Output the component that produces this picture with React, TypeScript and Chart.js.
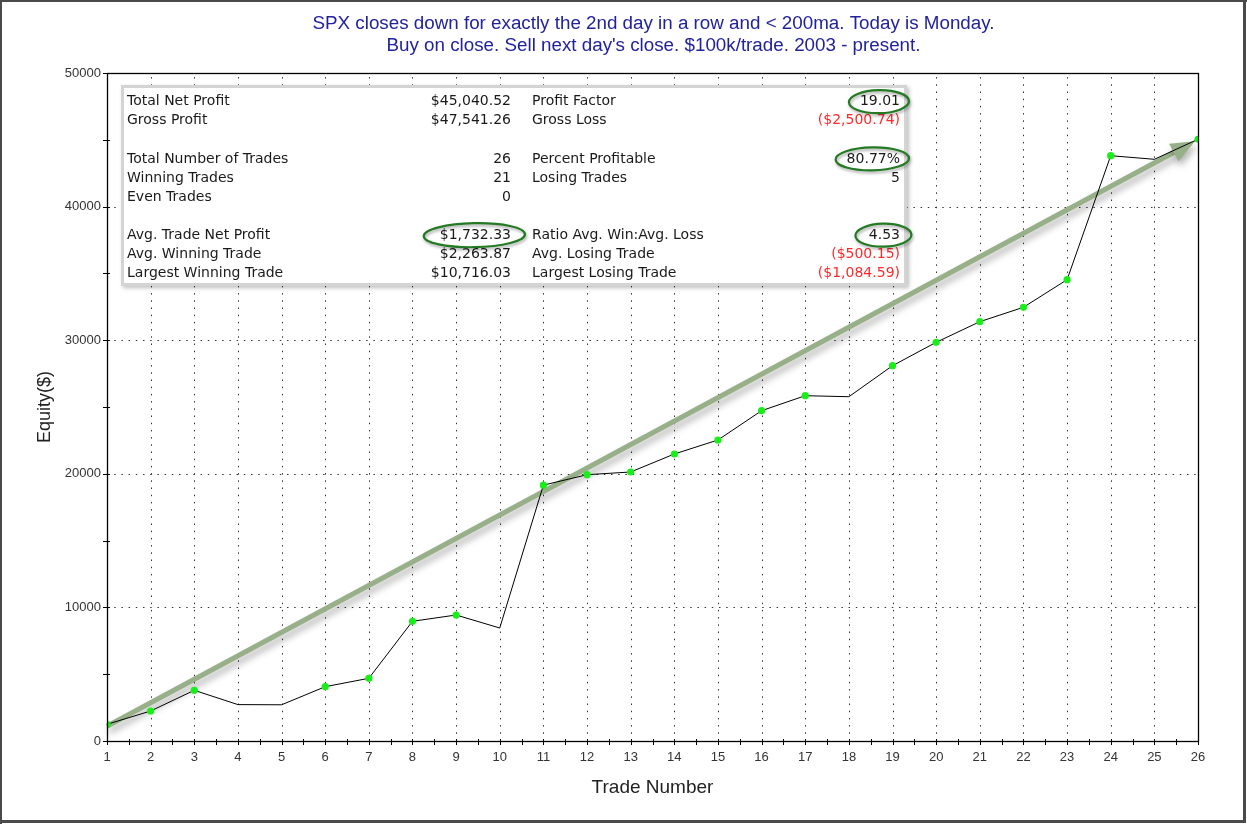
import React, { useEffect, useRef } from "react";
import { Chart, registerables } from "chart.js";

Chart.register(...registerables);

const TITLE_LINES = [
  "SPX closes down for exactly the 2nd day in a row and < 200ma. Today is Monday.",
  "Buy on close. Sell next day's close. $100k/trade. 2003 - present.",
];
const X_TITLE = "Trade Number";
const Y_TITLE = "Equity($)";

const tradeNumbers = [1, 2, 3, 4, 5, 6, 7, 8, 9, 10, 11, 12, 13, 14, 15, 16, 17, 18, 19, 20, 21, 22, 23, 24, 25, 26];
const equity = [
  1250, 2245, 3795, 2725, 2710, 4065, 4693, 8960, 9431, 8458, 19150, 19933, 20135, 21482, 22530, 24723, 25846,
  25770, 28092, 29843, 31385, 32463, 34530, 43810, 43540, 45040.52,
];

const yMin = 0;
const yMax = 50000;
const yLabelStep = 10000;
const yMinorStep = 5000;

// trend arrow, in data units [trade, equity]
const arrowFrom = [1, 1100];
const arrowTo = [25.93, 44900];

// stats box (rows; empty strings are spacer rows)
const statLabelsLeft = [
  "Total Net Profit", "Gross Profit", "", "Total Number of Trades", "Winning Trades", "Even Trades", "",
  "Avg. Trade Net Profit", "Avg. Winning Trade", "Largest Winning Trade",
];
const statValuesLeft = ["$45,040.52", "$47,541.26", "", "26", "21", "0", "", "$1,732.33", "$2,263.87", "$10,716.03"];
const statLabelsRight = [
  "Profit Factor", "Gross Loss", "", "Percent Profitable", "Losing Trades", "", "",
  "Ratio Avg. Win:Avg. Loss", "Avg. Losing Trade", "Largest Losing Trade",
];
const statValuesRight = ["19.01", "($2,500.74)", "", "80.77%", "5", "", "", "4.53", "($500.15)", "($1,084.59)"];
const highlightLeft = [7];
const highlightRight = [0, 3, 7];

const FONT = "'Liberation Sans', Arial, sans-serif";
const STAT_FONT = "14px 'DejaVu Sans', Verdana, sans-serif";
const TITLE_FONT = "18.8px 'Liberation Sans', Arial, sans-serif";

function drawEllipse(ctx: CanvasRenderingContext2D, cx: number, cy: number, rx: number, ry: number) {
  ctx.save();
  ctx.shadowColor = "rgba(0,0,0,0.35)";
  ctx.shadowBlur = 3;
  ctx.shadowOffsetX = 1;
  ctx.shadowOffsetY = 2;
  ctx.strokeStyle = "#237a23";
  ctx.lineWidth = 2.2;
  ctx.beginPath();
  ctx.ellipse(cx, cy, rx, ry, -0.02, 0, Math.PI * 2);
  ctx.stroke();
  ctx.restore();
}

const decorPlugin = {
  id: "decor",
  beforeDraw(chart: any) {
    const { ctx, width, height } = chart;
    ctx.save();
    ctx.fillStyle = "#ffffff";
    ctx.fillRect(0, 0, width, height);
    // title (centred a little right of the plot, as in the source image)
    ctx.fillStyle = "#22229c";
    ctx.font = TITLE_FONT;
    ctx.textAlign = "center";
    ctx.textBaseline = "middle";
    TITLE_LINES.forEach((line, i) => ctx.fillText(line, 653.5, 23.5 + i * 22));
    ctx.restore();
  },
  beforeDatasetsDraw(chart: any) {
    const { ctx, chartArea: a, scales } = chart;
    const xs = scales.x;
    const ys = scales.y;
    ctx.save();
    // dotted grid
    ctx.strokeStyle = "#333";
    ctx.lineWidth = 1;
    ctx.setLineDash([1.5, 5.7]);
    xs.ticks.forEach((t: any) => {
      if (t.value > xs.min && t.value < xs.max) {
        const px = Math.round(xs.getPixelForValue(t.value)) + 0.5;
        ctx.beginPath();
        ctx.moveTo(px, a.bottom);
        ctx.lineTo(px, a.top);
        ctx.stroke();
      }
    });
    ys.ticks.forEach((t: any) => {
      if (t.value > ys.min && t.value < ys.max) {
        const py = Math.round(ys.getPixelForValue(t.value)) + 0.5;
        ctx.beginPath();
        ctx.moveTo(a.left, py);
        ctx.lineTo(a.right, py);
        ctx.stroke();
      }
    });
    ctx.setLineDash([]);

    // stats box
    const bx = a.left + 14;
    const by = a.top + 12;
    const bw = 786;
    const bh = 201;
    ctx.save();
    ctx.shadowColor = "rgba(0,0,0,0.25)";
    ctx.shadowBlur = 4;
    ctx.shadowOffsetX = 2;
    ctx.shadowOffsetY = 2;
    ctx.fillStyle = "#ffffff";
    ctx.fillRect(bx, by, bw, bh);
    ctx.restore();
    ctx.strokeStyle = "#d4d4d4";
    ctx.lineWidth = 3;
    ctx.strokeRect(bx + 1.5, by + 1.5, bw - 3, bh - 3);

    ctx.font = STAT_FONT;
    ctx.textBaseline = "middle";
    const rowH = 19.07;
    const row0 = by + 16.7;
    const colL = bx + 6;
    const colLV = bx + 390;
    const colR = bx + 411;
    const colRV = bx + 779;
    for (let i = 0; i < statLabelsLeft.length; i++) {
      const yy = row0 + i * rowH;
      ctx.fillStyle = "#1a1a1a";
      ctx.textAlign = "left";
      if (statLabelsLeft[i]) ctx.fillText(statLabelsLeft[i], colL, yy);
      if (statLabelsRight[i]) ctx.fillText(statLabelsRight[i], colR, yy);
      ctx.textAlign = "right";
      const lv = statValuesLeft[i];
      if (lv) {
        ctx.fillStyle = lv.startsWith("(") ? "#ff2a2a" : "#1a1a1a";
        ctx.fillText(lv, colLV, yy);
      }
      const rv = statValuesRight[i];
      if (rv) {
        ctx.fillStyle = rv.startsWith("(") ? "#ff2a2a" : "#1a1a1a";
        ctx.fillText(rv, colRV, yy);
      }
    }
    highlightLeft.forEach((i) => {
      const w = ctx.measureText(statValuesLeft[i]).width;
      drawEllipse(ctx, colLV - w / 2 - 1, row0 + i * rowH, w / 2 + 15, 12);
    });
    highlightRight.forEach((i) => {
      const w = ctx.measureText(statValuesRight[i]).width;
      drawEllipse(ctx, colRV - w / 2 - 1, row0 + i * rowH, Math.max(w / 2 + 10, 28), 11.5);
    });

    // trend arrow
    const x0 = xs.getPixelForValue(arrowFrom[0]);
    const y0 = ys.getPixelForValue(arrowFrom[1]);
    const x1 = xs.getPixelForValue(arrowTo[0]);
    const y1 = ys.getPixelForValue(arrowTo[1]);
    const ang = Math.atan2(y1 - y0, x1 - x0);
    const headLen = 24;
    const headHalf = 10;
    const bxh = x1 - Math.cos(ang) * headLen;
    const byh = y1 - Math.sin(ang) * headLen;
    ctx.save();
    ctx.shadowColor = "rgba(0,0,0,0.3)";
    ctx.shadowBlur = 7;
    ctx.shadowOffsetX = 2;
    ctx.shadowOffsetY = 5;
    ctx.strokeStyle = "#98b08a";
    ctx.fillStyle = "#98b08a";
    ctx.lineWidth = 5;
    ctx.beginPath();
    ctx.moveTo(x0, y0);
    ctx.lineTo(bxh + Math.cos(ang) * 2, byh + Math.sin(ang) * 2);
    ctx.stroke();
    ctx.beginPath();
    ctx.moveTo(x1, y1);
    ctx.lineTo(bxh + Math.sin(ang) * headHalf, byh - Math.cos(ang) * headHalf);
    ctx.lineTo(bxh - Math.sin(ang) * headHalf, byh + Math.cos(ang) * headHalf);
    ctx.closePath();
    ctx.fill();
    ctx.restore();
    ctx.restore();
  },
  afterDraw(chart: any) {
    const { ctx, chartArea: a, scales, width, height } = chart;
    const xs = scales.x;
    const ys = scales.y;
    ctx.save();
    // plot frame
    ctx.strokeStyle = "#000";
    ctx.lineWidth = 1.3;
    ctx.strokeRect(Math.round(a.left) + 0.5, Math.round(a.top) + 0.5, Math.round(a.right - a.left), Math.round(a.bottom - a.top));
    // y ticks
    ctx.lineWidth = 1;
    for (let v = ys.min; v <= ys.max; v += yMinorStep) {
      const py = Math.round(ys.getPixelForValue(v)) + 0.5;
      ctx.beginPath();
      ctx.moveTo(a.left - 4, py);
      ctx.lineTo(a.left + 3, py);
      ctx.stroke();
    }
    // x ticks (major + half-step minor)
    for (let v = xs.min; v <= xs.max; v += 0.5) {
      const px = Math.round(xs.getPixelForValue(v)) + 0.5;
      ctx.beginPath();
      ctx.moveTo(px, a.bottom - 2);
      ctx.lineTo(px, a.bottom + 4);
      ctx.stroke();
    }
    // outer frame
    ctx.fillStyle = "#4a4a4a";
    ctx.fillRect(0, 0, width, 2);
    ctx.fillRect(0, 0, 2, height);
    ctx.fillRect(width - 4, 0, 3, height - 1);
    ctx.fillRect(0, height - 4, width - 1, 3);
    ctx.restore();
  },
};

export default function App() {
  const canvasRef = useRef<HTMLCanvasElement | null>(null);

  useEffect(() => {
    if (!canvasRef.current) return;
    Chart.defaults.font.family = FONT;
    const chart = new Chart(canvasRef.current, {
      type: "line",
      data: {
        datasets: [
          {
            data: tradeNumbers.map((t, i) => ({ x: t, y: equity[i] })),
            borderColor: "#000000",
            borderWidth: 1,
            tension: 0,
            fill: false,
            pointRadius: (c: any) => {
              const i = c.dataIndex;
              const prev = i > 0 ? equity[i - 1] : 0;
              return equity[i] > prev ? 3.6 : 0;
            },
            pointBackgroundColor: "#18ee18",
            pointBorderWidth: 0,
            pointHoverRadius: 0,
          },
        ],
      },
      options: {
        responsive: false,
        animation: false,
        devicePixelRatio: 1,
        events: [],
        layout: { padding: { left: 0, right: 49, top: 73, bottom: 0 } },
        plugins: {
          legend: { display: false },
          tooltip: { enabled: false },
          title: { display: false },
        },
        scales: {
          x: {
            type: "linear",
            min: 1,
            max: 26,
            ticks: {
              stepSize: 1,
              autoSkip: false,
              maxRotation: 0,
              padding: 9,
              color: "#333",
              font: { family: FONT, size: 13 },
              callback: (v: any) => String(v),
            },
            grid: { display: false, drawTicks: false },
            border: { display: false },
            title: {
              display: true,
              text: X_TITLE,
              color: "#222",
              font: { family: FONT, size: 19 },
              padding: { top: 0, bottom: 25 },
            },
            afterFit: (s: any) => {
              s.height = 83;
            },
          },
          y: {
            type: "linear",
            min: yMin,
            max: yMax,
            ticks: {
              stepSize: yLabelStep,
              padding: 6,
              color: "#333",
              font: { family: FONT, size: 13 },
              callback: (v: any) => String(v),
            },
            grid: { display: false, drawTicks: false },
            border: { display: false },
            title: {
              display: true,
              text: Y_TITLE,
              color: "#222",
              font: { family: FONT, size: 18 },
              padding: { top: 34, bottom: 0 },
            },
            afterFit: (s: any) => {
              s.width = 107;
            },
          },
        },
      } as any,
      plugins: [decorPlugin],
    });
    return () => chart.destroy();
  }, []);

  return (
    <div style={{ position: "fixed", left: 0, top: 0, width: 1247, height: 824 }}>
      <canvas ref={canvasRef} width={1247} height={824} style={{ width: 1247, height: 824, display: "block" }} />
    </div>
  );
}
